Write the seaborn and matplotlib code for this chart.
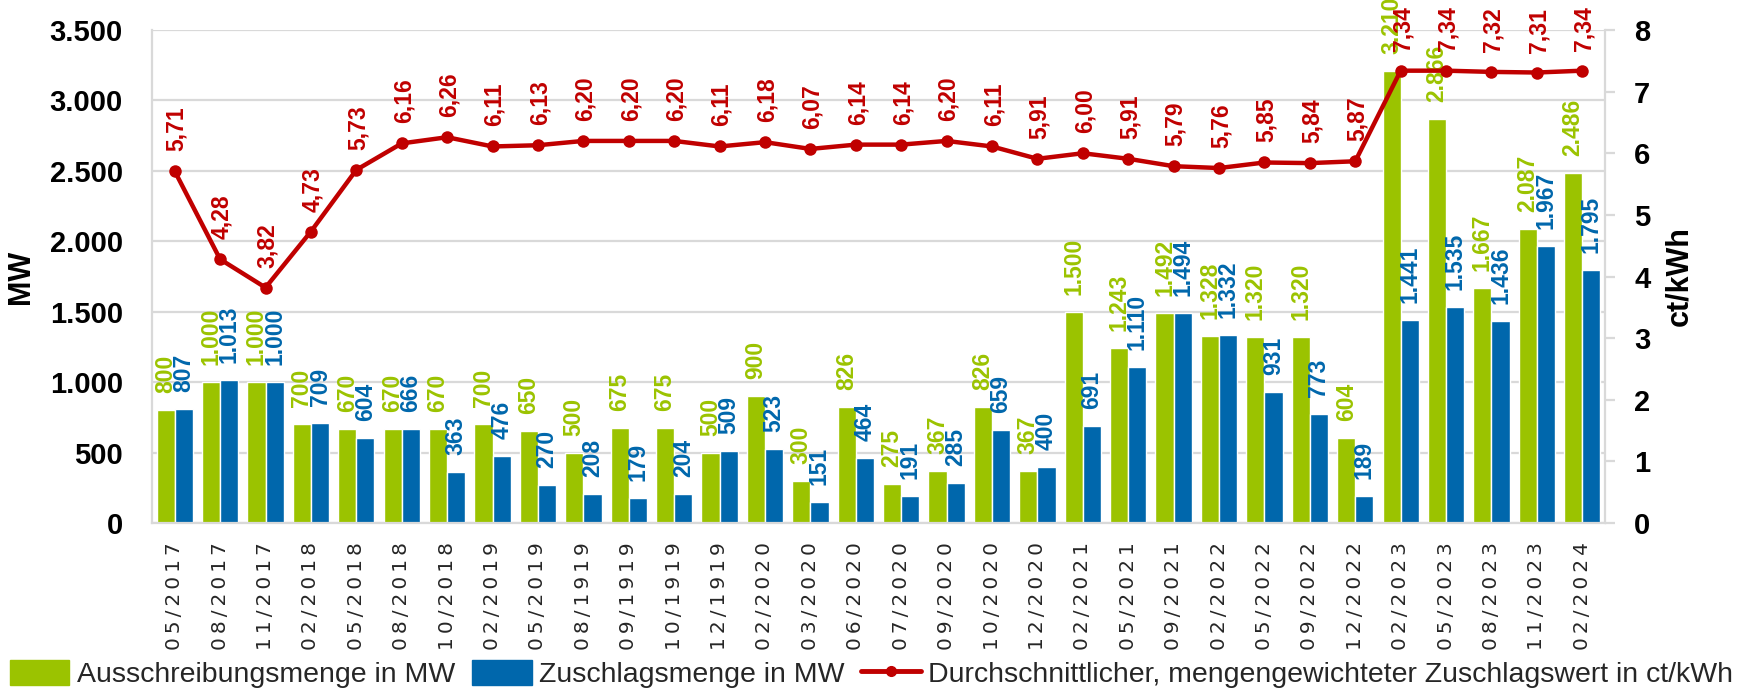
import numpy as np
import pandas as pd
import matplotlib
matplotlib.use("Agg")
import matplotlib.pyplot as plt
import seaborn as sns
from matplotlib.patches import Patch
from matplotlib.lines import Line2D

# ---------------- data ----------------
dates = ["05/2017", "08/2017", "11/2017", "02/2018", "05/2018", "08/2018", "10/2018",
         "02/2019", "05/2019", "08/1919", "09/1919", "10/1919", "12/1919", "02/2020",
         "03/2020", "06/2020", "07/2020", "09/2020", "10/2020", "12/2020", "02/2021",
         "05/2021", "09/2021", "02/2022", "05/2022", "09/2022", "12/2022", "02/2023",
         "05/2023", "08/2023", "11/2023", "02/2024"]
ausschreibung = [800, 1000, 1000, 700, 670, 670, 670, 700, 650, 500, 675, 675, 500, 900,
                 300, 826, 275, 367, 826, 367, 1500, 1243, 1492, 1328, 1320, 1320, 604,
                 3210, 2866, 1667, 2087, 2486]
zuschlag = [807, 1013, 1000, 709, 604, 666, 363, 476, 270, 208, 179, 204, 509, 523,
            151, 464, 191, 285, 659, 400, 691, 1110, 1494, 1332, 931, 773, 189,
            1441, 1535, 1436, 1967, 1795]
zuschlagswert = [5.71, 4.28, 3.82, 4.73, 5.73, 6.16, 6.26, 6.11, 6.13, 6.20, 6.20, 6.20,
                 6.11, 6.18, 6.07, 6.14, 6.14, 6.20, 6.11, 5.91, 6.00, 5.91, 5.79, 5.76,
                 5.85, 5.84, 5.87, 7.34, 7.34, 7.32, 7.31, 7.34]
mw_ticks = [0, 500, 1000, 1500, 2000, 2500, 3000, 3500]
mw_tick_labels = ["0", "500", "1.000", "1.500", "2.000", "2.500", "3.000", "3.500"]
ct_ticks = [0, 1, 2, 3, 4, 5, 6, 7, 8]
ct_tick_labels = ["0", "1", "2", "3", "4", "5", "6", "7", "8"]
series_names = ["Ausschreibungsmenge in MW", "Zuschlagsmenge in MW"]
line_name = "Durchschnittlicher, mengengewichteter Zuschlagswert in ct/kWh"

GREEN = "#9BC300"
BLUE = "#0067AC"
RED = "#C00000"
GRID = "#D9D9D9"

sns.set_theme(style="white")
plt.rcParams["font.family"] = ["Liberation Sans", "DejaVu Sans"]

df = pd.DataFrame({
    "Datum": dates * 2,
    "MW": ausschreibung + zuschlag,
    "Serie": [series_names[0]] * len(dates) + [series_names[1]] * len(dates),
})

fig = plt.figure(figsize=(17.43, 6.92), dpi=100)
L, R, B, T = 152 / 1743, 1605 / 1743, 1 - 523 / 692, 1 - 30 / 692
ax = fig.add_axes([L, B, R - L, T - B])

sns.barplot(data=df, x="Datum", y="MW", hue="Serie", order=dates,
            hue_order=series_names, palette=[GREEN, BLUE], width=0.8,
            saturation=1, ax=ax, legend=False, errorbar=None)

ax.set_xlim(-0.5, len(dates) - 0.5)
ax.set_ylim(0, 3500)
ax.set_yticks(mw_ticks)
ax.set_yticklabels(mw_tick_labels, fontsize=21, fontweight="bold", color="black")
ax.tick_params(axis="y", length=0, pad=21)
ax.set_xticks(range(len(dates)))
ax.set_xticklabels(["\u2009".join(d) for d in dates], rotation=90, fontsize=14.5,
                   family="DejaVu Sans", va="top")
ax.tick_params(axis="x", length=0, pad=14)
ax.set_xlabel("")
ax.set_ylabel("MW", fontsize=22, fontweight="bold", color="black")
ax.yaxis.set_label_coords(-0.08, 0.5)
ax.grid(axis="y", color=GRID, linewidth=1.6)
ax.set_axisbelow(True)
for s in ["left", "bottom"]:
    ax.spines[s].set_color(GRID)
    ax.spines[s].set_linewidth(1.6)
ax.spines["top"].set_visible(False)
ax.spines["right"].set_visible(False)

# bar labels
bars_green = ax.containers[0]
bars_blue = ax.containers[1]
for cont, vals, col in [(bars_green, ausschreibung, GREEN),
                        (bars_blue, zuschlag, BLUE)]:
    for rect, v in zip(cont, vals):
        ax.annotate(f"{v:,}".replace(",", "."),
                    xy=(rect.get_x() + rect.get_width() / 2, rect.get_height()),
                    xytext=(0, 17), textcoords="offset pixels",
                    rotation=90, ha="center", va="bottom", fontsize=16.5,
                    color=col, fontweight="bold", annotation_clip=False)

# line on secondary axis
ax2 = ax.twinx()
sns.lineplot(x=np.arange(len(dates)), y=zuschlagswert, ax=ax2, color=RED,
             linewidth=3.2, marker="o", markersize=9, markeredgewidth=0)
ax2.set_ylim(0, 8)
ax2.set_xlim(-0.5, len(dates) - 0.5)
ax2.set_yticks(ct_ticks)
ax2.set_yticklabels(ct_tick_labels, fontsize=21, fontweight="bold", color="black")
ax2.tick_params(axis="y", direction="out", length=7, width=1.6, color=GRID, pad=14, right=True)
ax2.set_ylabel("ct/kWh", fontsize=22, fontweight="bold", color="black")
ax2.yaxis.set_label_coords(1.041, 0.5)
for s in ["left", "bottom", "top"]:
    ax2.spines[s].set_visible(False)
ax2.spines["right"].set_color(GRID)
ax2.spines["right"].set_linewidth(1.6)
ax2.grid(False)
for i, v in enumerate(zuschlagswert):
    ax2.annotate(f"{v:.2f}".replace(".", ","), xy=(i, v), xytext=(2, 20),
                 textcoords="offset pixels", rotation=90, ha="center", va="bottom",
                 fontsize=16.5, color=RED, fontweight="bold", annotation_clip=False)

handles = [Patch(facecolor=GREEN, edgecolor=GREEN),
           Patch(facecolor=BLUE, edgecolor=BLUE),
           Line2D([0], [0], color=RED, linewidth=3.5, marker="o", markersize=7)]
fig.legend(handles, series_names + [line_name], loc="center",
           bbox_to_anchor=(0.5, 0.026), ncol=3, frameon=False, fontsize=20.5,
           handlelength=2.1, handleheight=1.0, handletextpad=0.25, columnspacing=0.6,
           borderaxespad=0)

fig.savefig("out.png", dpi=100)
